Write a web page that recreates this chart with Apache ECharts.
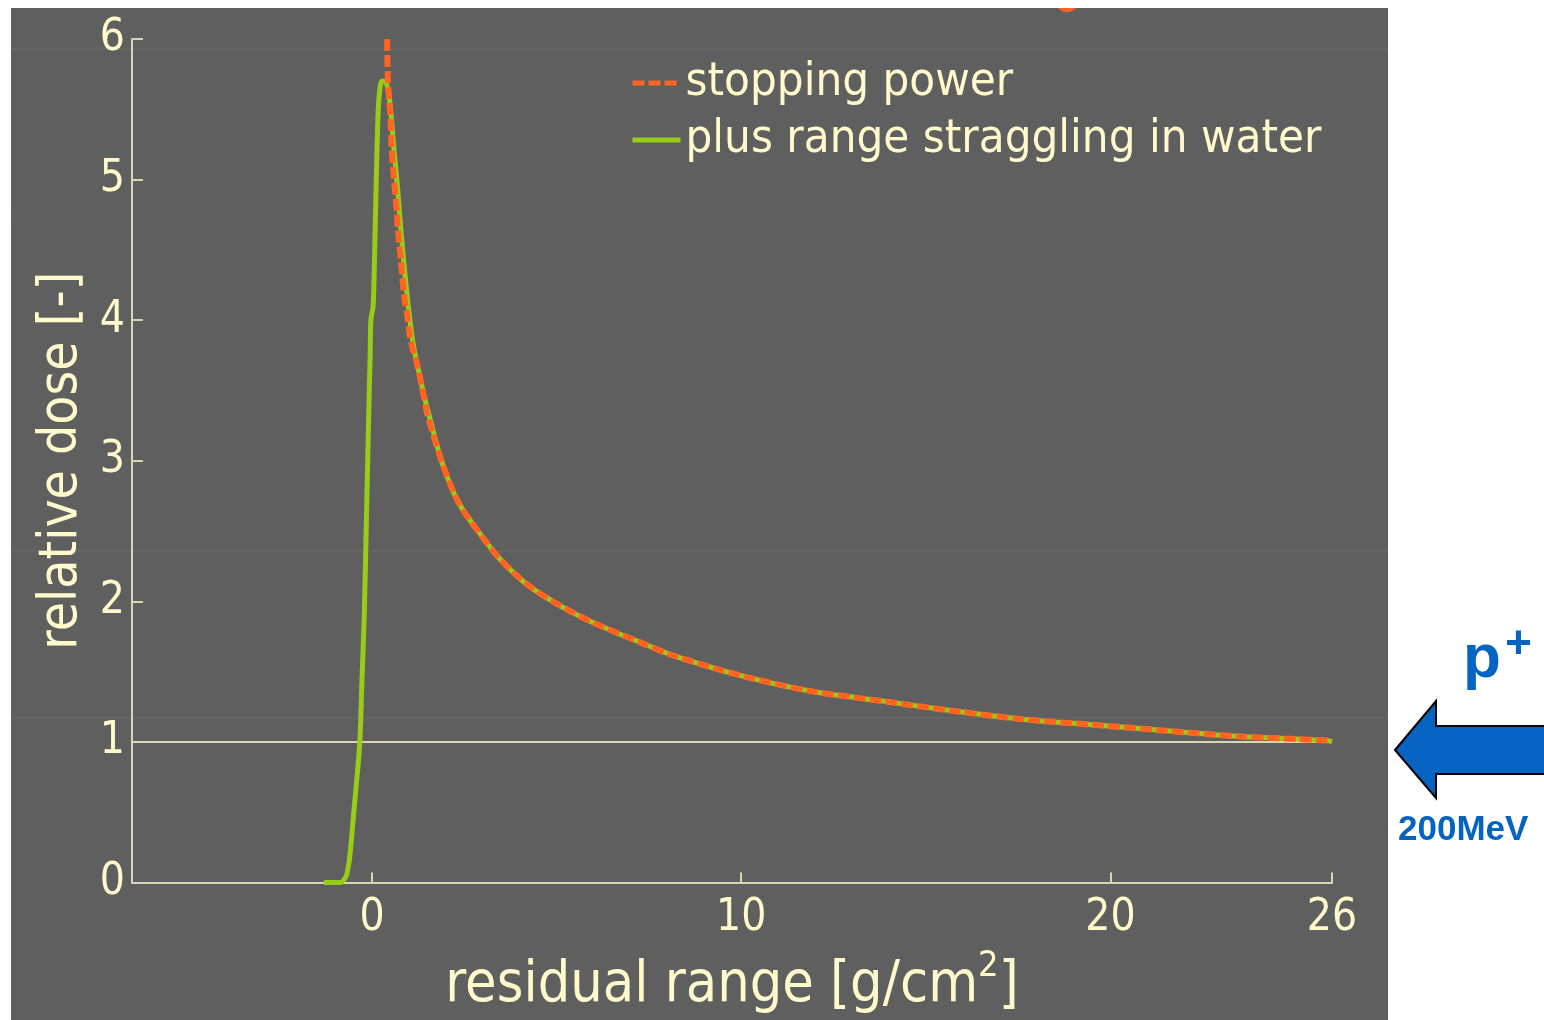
<!DOCTYPE html>
<html>
<head>
<meta charset="utf-8">
<script src="https://cdn.jsdelivr.net/npm/echarts@6/dist/echarts.min.js"></script>
<style>
html,body{margin:0;padding:0;background:#ffffff;}
#chart{width:1544px;height:1020px;}
</style>
</head>
<body>
<div id="chart"></div>
<script>
// ---- data ----
const stopX = [0.41,0.43,0.49,0.53,0.58,0.62,0.67,0.70,0.78,0.81,0.89,0.94,1.03,1.11,1.21,1.35,1.48,1.62,1.92,2.35,3.01,3.47,4.20,5.09,5.98,7.34,8.10,10.02,11.91,13.84,15.76,17.68,19.60,21.50,23.42,25.86,26.00];
const stopY = [6.00,5.71,5.48,5.24,5.05,4.93,4.78,4.65,4.43,4.34,4.13,4.06,3.88,3.79,3.70,3.53,3.35,3.22,2.97,2.70,2.45,2.30,2.12,1.97,1.85,1.70,1.62,1.47,1.36,1.29,1.22,1.16,1.12,1.08,1.04,1.01,1.00];

const strgX = [-1.30,-0.85,-0.76,-0.68,-0.60,-0.51,-0.41,-0.33,-0.27,-0.21,-0.15,-0.10,-0.05,-0.03,0.03,0.06,0.09,0.13,0.17,0.22,0.27,0.35,0.45,0.52,0.60,0.68,0.79,0.95,1.11,1.38,1.57,1.92,2.35,3.01,3.47,4.20,5.09,5.98,7.34,8.10,10.02,11.91,13.84,15.76,17.68,19.60,21.50,23.42,25.86,26.00];
const strgY = [0.00,0.00,0.02,0.06,0.19,0.45,0.74,1.00,1.45,1.90,2.60,3.20,3.75,4.00,4.10,4.35,4.70,5.15,5.50,5.66,5.70,5.70,5.62,5.45,5.20,4.98,4.62,4.18,3.84,3.50,3.30,2.97,2.70,2.45,2.30,2.12,1.97,1.85,1.70,1.62,1.47,1.36,1.29,1.22,1.16,1.12,1.08,1.04,1.01,1.00];

const xTicks = [0, 10, 20, 26];
const refLevel = 1;
const seriesNames = ['stopping power', 'plus range straggling in water'];

// ---- styling ----
const CREAM = '#fff9cc';
const AXIS = '#d9d6b4';
const BG = '#5f5f5f';
const ORANGE = '#ff6520';
const GREEN = '#99cc18';
const BLUE = '#0563c1';
const FONT = "'DejaVu Sans Condensed', 'DejaVu Sans', sans-serif";

const stopData = stopX.map((x, i) => [x, stopY[i]]);
const strgData = strgX.map((x, i) => [x, strgY[i]]);

const chart = echarts.init(document.getElementById('chart'), null, {renderer: 'canvas'});

const option = {
  backgroundColor: '#ffffff',
  animation: false,
  textStyle: {fontFamily: FONT},
  graphic: [
    {type: 'rect', z: -100, silent: true, shape: {x: 11, y: 8, width: 1377, height: 1012}, style: {fill: BG}},
    {type: 'line', z: -99, silent: true, shape: {x1: 11, y1: 49, x2: 1388, y2: 49}, style: {stroke: '#6c6c6c', lineWidth: 1}},
    {type: 'line', z: -99, silent: true, shape: {x1: 11, y1: 216, x2: 1388, y2: 216}, style: {stroke: '#646464', lineWidth: 1}},
    {type: 'line', z: -99, silent: true, shape: {x1: 11, y1: 551, x2: 1388, y2: 551}, style: {stroke: '#6a6a6a', lineWidth: 1}},
    {type: 'line', z: -99, silent: true, shape: {x1: 11, y1: 718, x2: 1388, y2: 718}, style: {stroke: '#6a6a6a', lineWidth: 1}},
    {type: 'circle', z: -98, silent: true, shape: {cx: 1067, cy: -0.5, r: 12.5}, style: {fill: ORANGE}},
    {type: 'rect', z: -97, silent: true, shape: {x: 0, y: 0, width: 1544, height: 8}, style: {fill: '#ffffff'}},
    {type: 'polygon', silent: true, shape: {points: [[1395,750],[1436,701],[1436,726],[1550,726],[1550,774],[1436,774],[1436,798]]},
      style: {fill: BLUE, stroke: '#000000', lineWidth: 2}},
    {type: 'text', silent: true, x: 1463, y: 660, style: {text: 'p', font: "bold 62px 'Liberation Sans', Arial, sans-serif", fill: BLUE, verticalAlign: 'middle', align: 'left'}},
    {type: 'text', silent: true, x: 1505, y: 645, style: {text: '+', font: "bold 46px 'Liberation Sans', Arial, sans-serif", fill: BLUE, verticalAlign: 'middle', align: 'left'}},
    {type: 'text', silent: true, x: 1398, y: 830, style: {text: '200MeV', font: "bold 35px 'Liberation Sans', Arial, sans-serif", fill: BLUE, verticalAlign: 'middle', align: 'left'}}
  ],
  legend: {
    orient: 'vertical',
    left: 630,
    top: 58,
    padding: 0,
    itemWidth: 48,
    itemHeight: 14,
    itemGap: 7,
    data: seriesNames,
    itemStyle: {opacity: 0},
    lineStyle: {width: 5},
    textStyle: {color: CREAM, fontSize: 47, fontFamily: FONT, lineHeight: 50, padding: [0,0,0,0]}
  },
  grid: {left: 132, right: 212, top: 39, bottom: 136, containLabel: false},
  xAxis: {
    type: 'value',
    min: -6.5,
    max: 26,
    name: 'residual range [g/cm{sup|2}]',
    nameLocation: 'middle',
    nameGap: 66,
    nameTextStyle: {
      color: CREAM, fontSize: 57, fontFamily: FONT,
      rich: {sup: {fontSize: 36, color: CREAM, fontFamily: FONT, verticalAlign: 'top', padding: [0,0,40,0]}}
    },
    axisLine: {show: true, onZero: false, lineStyle: {color: AXIS, width: 2}},
    axisTick: {show: true, inside: true, length: 10, customValues: xTicks, lineStyle: {color: AXIS, width: 2}},
    axisLabel: {customValues: xTicks, color: CREAM, fontSize: 44, margin: 14, fontFamily: FONT},
    splitLine: {show: false}
  },
  yAxis: {
    type: 'value',
    min: 0,
    max: 6,
    interval: 1,
    name: 'relative dose [-]',
    nameLocation: 'middle',
    nameGap: 36,
    nameTextStyle: {color: CREAM, fontSize: 53, fontFamily: FONT},
    axisLine: {show: true, onZero: false, lineStyle: {color: AXIS, width: 2}},
    axisTick: {show: true, inside: true, length: 11, lineStyle: {color: AXIS, width: 2}},
    axisLabel: {color: CREAM, fontSize: 44, margin: 7, fontFamily: FONT},
    splitLine: {show: false}
  },
  series: [
    {
      name: seriesNames[1],
      type: 'line',
      data: strgData,
      symbol: 'none',
      smooth: 0.3,
      z: 3,
      lineStyle: {color: GREEN, width: 5},
      itemStyle: {color: GREEN},
      markLine: {
        silent: true,
        symbol: 'none',
        label: {show: false},
        lineStyle: {color: AXIS, width: 2, type: 'solid'},
        data: [{yAxis: refLevel}],
        z: 1
      }
    },
    {
      name: seriesNames[0],
      type: 'line',
      data: stopData,
      symbol: 'none',
      smooth: 0.3,
      z: 4,
      lineStyle: {color: ORANGE, width: 6, type: [12, 4]},
      itemStyle: {color: ORANGE}
    }
  ]
};
chart.setOption(option);
</script>
</body>
</html>
